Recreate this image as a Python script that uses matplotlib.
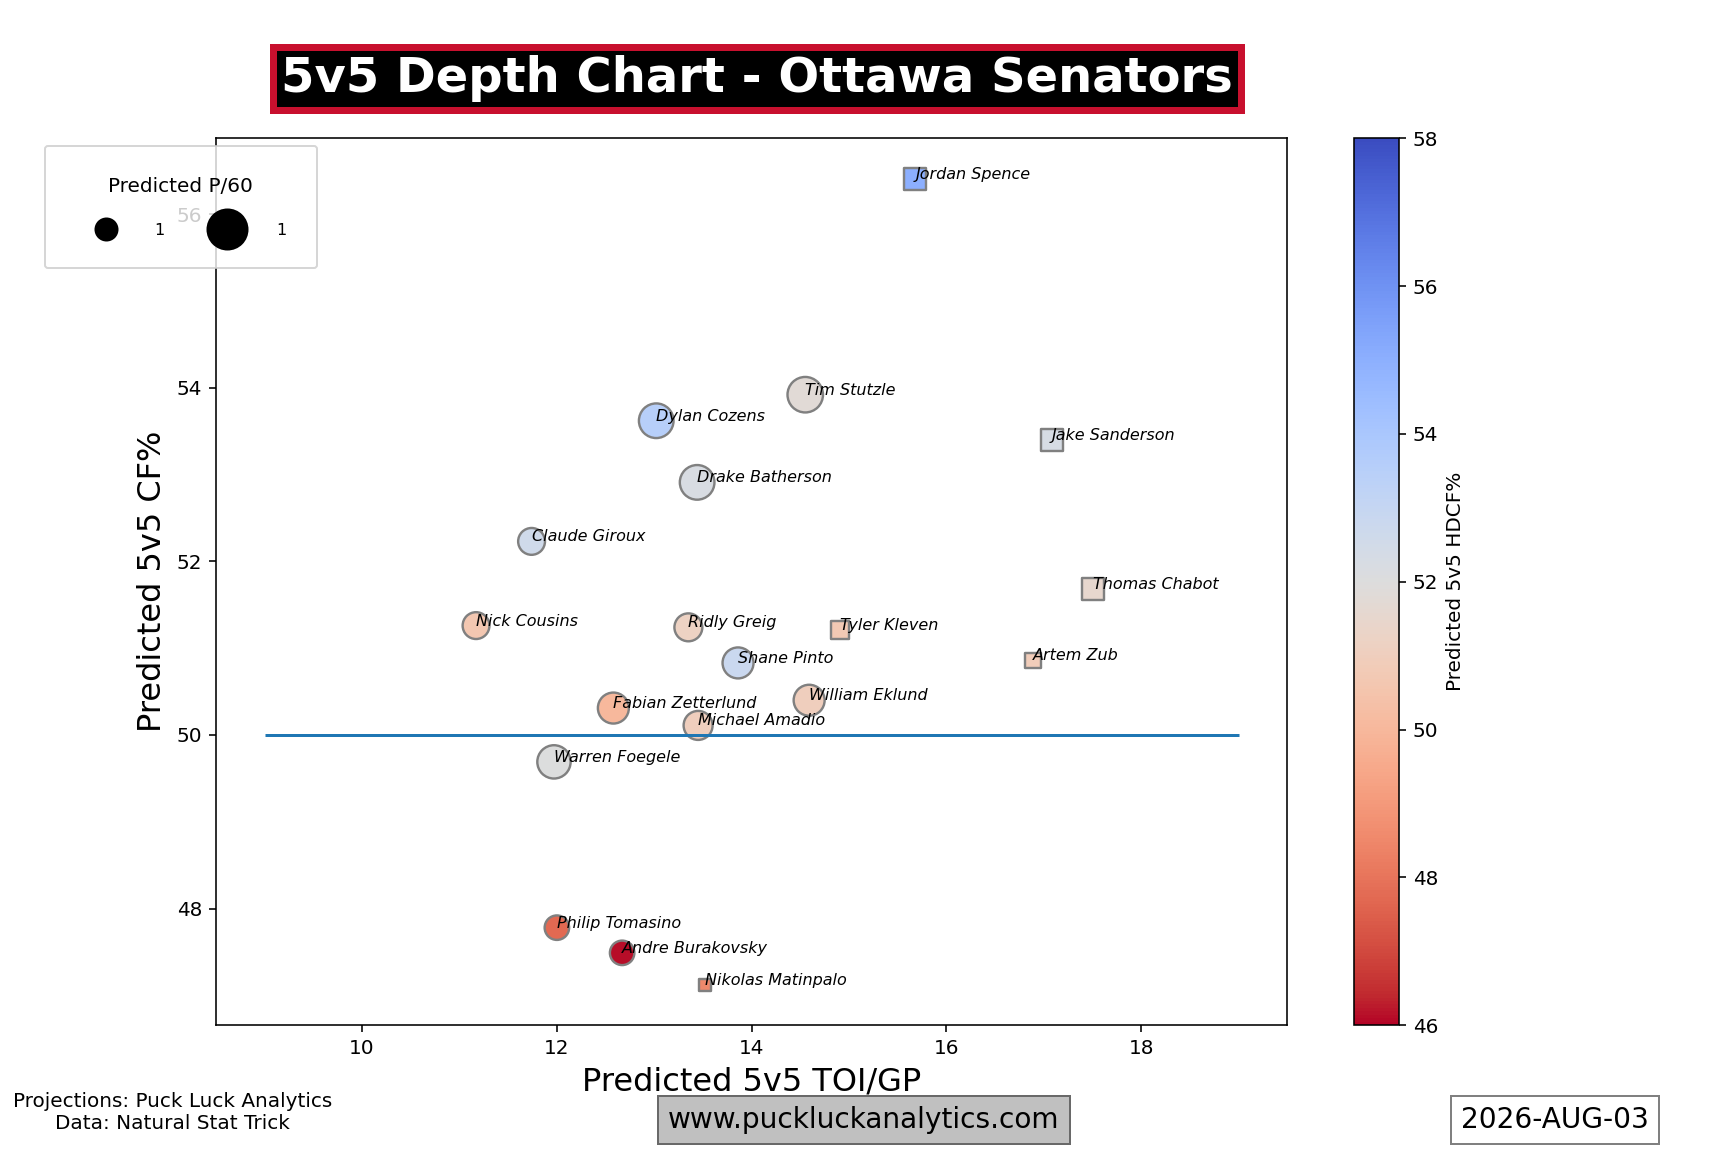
import matplotlib.pyplot as plt
from matplotlib.lines import Line2D

# forwards (circles)
fwd_names = ['Tim Stutzle', 'Dylan Cozens', 'Drake Batherson', 'Claude Giroux',
             'Nick Cousins', 'Ridly Greig', 'Shane Pinto', 'William Eklund',
             'Fabian Zetterlund', 'Michael Amadio', 'Warren Foegele',
             'Philip Tomasino', 'Andre Burakovsky']
fwd_toi = [14.55, 13.02, 13.44, 11.74, 11.17, 13.35, 13.86, 14.59, 12.58, 13.45, 11.97, 12.00, 12.67]
fwd_cf = [53.92, 53.62, 52.91, 52.23, 51.26, 51.24, 50.83, 50.40, 50.31, 50.11, 49.69, 47.78, 47.49]
fwd_hdcf = [51.8, 53.5, 52.2, 52.6, 50.6, 51.2, 52.8, 51.0, 50.0, 51.0, 52.0, 47.7, 46.1]
fwd_p60 = [2.1, 2.0, 2.0, 1.2, 1.2, 1.3, 1.6, 1.6, 1.6, 1.4, 1.85, 1.0, 1.0]

# defence (squares)
def_names = ['Jordan Spence', 'Jake Sanderson', 'Thomas Chabot', 'Tyler Kleven',
             'Artem Zub', 'Nikolas Matinpalo']
def_toi = [15.68, 17.08, 17.50, 14.91, 16.89, 13.52]
def_cf = [56.41, 53.40, 51.68, 51.21, 50.86, 47.12]
def_hdcf = [55.0, 52.3, 51.5, 50.7, 50.9, 48.5]
def_p60 = [0.8, 0.8, 0.8, 0.53, 0.4, 0.25]

size_scale = 150

fig, ax = plt.subplots(figsize=(12, 8), dpi=144)

sc = ax.scatter(fwd_toi, fwd_cf, c=fwd_hdcf, s=[p * size_scale for p in fwd_p60],
                cmap='coolwarm_r', vmin=46, vmax=58, marker='o',
                edgecolors='grey', linewidths=1.2)
ax.scatter(def_toi, def_cf, c=def_hdcf, s=[p * size_scale for p in def_p60],
           cmap='coolwarm_r', vmin=46, vmax=58, marker='s',
           edgecolors='grey', linewidths=1.2)

for n, x, y in zip(fwd_names + def_names, fwd_toi + def_toi, fwd_cf + def_cf):
    ax.text(x, y, n, style='italic', fontsize=8)

ax.hlines(50, 9, 19, color='tab:blue', linewidth=1.5)

cb = plt.colorbar(sc)
cb.set_label('Predicted 5v5 HDCF%')

ax.set_xlabel('Predicted 5v5 TOI/GP', fontsize=16)
ax.set_ylabel('Predicted 5v5 CF%', fontsize=16)

ax.set_title('5v5 Depth Chart - Ottawa Senators', fontsize=24, fontweight='bold',
             color='white', pad=23, x=0.505,
             bbox=dict(facecolor='black', edgecolor='#c8102e', linewidth=3.5, pad=4))

handles = [Line2D([], [], marker='o', color='black', linestyle='none', markersize=11),
           Line2D([], [], marker='o', color='black', linestyle='none', markersize=20)]
ax.legend(handles, ['1', '1'], title='Predicted P/60', ncol=2, fontsize=8,
          loc='upper left', bbox_to_anchor=(-0.167, 1.0), borderpad=1.9,
          labelspacing=1.7, handlelength=3.8, handletextpad=1.15, columnspacing=2.0)

fig.text(0.1, 0.034, 'Projections: Puck Luck Analytics\nData: Natural Stat Trick',
         ha='center', va='center', fontsize=10)
fig.text(0.5, 0.028, 'www.puckluckanalytics.com', ha='center', va='center', fontsize=14,
         bbox=dict(facecolor='silver', edgecolor='dimgrey', pad=5))
fig.text(0.9, 0.028, '2026-AUG-03', ha='center', va='center', fontsize=14,
         bbox=dict(facecolor='white', edgecolor='grey', pad=5))

fig.savefig('out.png')
